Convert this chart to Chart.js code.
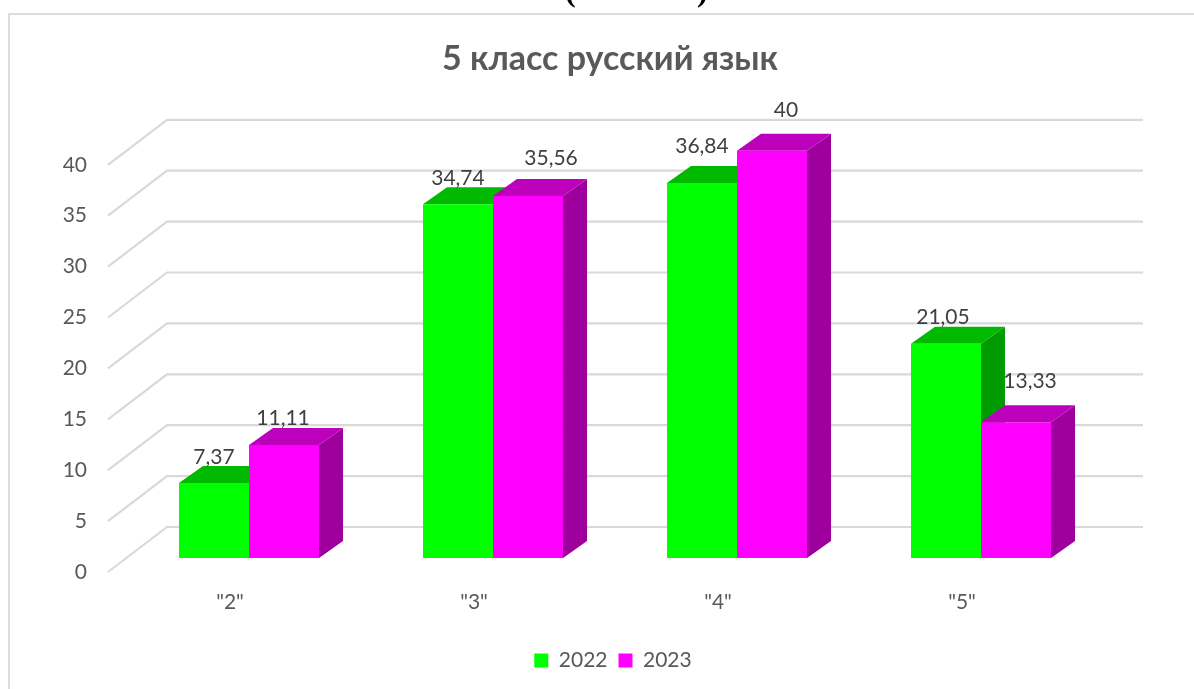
<!DOCTYPE html>
<html lang="ru">
<head>
<meta charset="utf-8">
<style>
html,body{margin:0;padding:0;background:#fff;overflow:hidden}
#wrap{position:relative;width:1194px;height:689px;overflow:hidden}
canvas{position:absolute;left:0;top:0}
.p{position:absolute;font:bold 32px "Liberation Serif",serif;color:#000;line-height:32px;top:-26px}
</style>
<script src="https://cdn.jsdelivr.net/npm/chart.js@4"></script>
</head>
<body>
<div id="wrap">
<canvas id="c" width="1194" height="689"></canvas>
<div class="p" style="left:565px">(</div>
<div class="p" style="left:697px">)</div>
</div>
<script>
const categories = ['"2"', '"3"', '"4"', '"5"'];
const series2022 = [7.37, 34.74, 36.84, 21.05];
const series2023 = [11.11, 35.56, 40, 13.33];
const yTickStep = 5;
const yMax = 40;

const DEPTH_X = 24, DEPTH_Y = 17;
const WALL_X = 59, WALL_Y = 45;
const BAR_DX = 19, BAR_DY = -14;
const LEGEND_SHIFT = 3;
const FACES = [
  {top:'#00B900', side:'#009B00'},
  {top:'#BC00BC', side:'#9E009E'}
];
const LABEL_SHIFT = [
  [[0,-26],[0,-26],[0,-37],[-3,-26]],
  [[-1,-27],[23,-38],[14,-41],[14,-41]]
];
const TICK_FONT = {family:'Lato, Carlito, sans-serif', size:21};

function poly(ctx, pts, fill){
  ctx.beginPath();
  pts.forEach((p,i)=> i ? ctx.lineTo(p[0],p[1]) : ctx.moveTo(p[0],p[1]));
  ctx.closePath();
  ctx.fillStyle = fill;
  ctx.fill();
}

const frame = {
  id:'frame',
  afterLayout(chart){
    chart.legend.left += LEGEND_SHIFT;
    chart.legend.right += LEGEND_SHIFT;
  },
  beforeDraw(chart){
    const ctx = chart.ctx;
    ctx.save();
    ctx.strokeStyle = '#DCDCDC';
    ctx.lineWidth = 2;
    ctx.beginPath();
    ctx.moveTo(9, 689); ctx.lineTo(9, 14); ctx.lineTo(1194, 14);
    ctx.stroke();
    ctx.restore();
  }
};

const wall = {
  id:'wall',
  beforeDatasetsDraw(chart){
    const ctx = chart.ctx, y = chart.scales.y, a = chart.chartArea;
    ctx.save();
    ctx.strokeStyle = '#D9D9D9';
    ctx.lineWidth = 2.2;
    y.ticks.forEach(t=>{
      const py = y.getPixelForValue(t.value);
      ctx.beginPath();
      ctx.moveTo(a.left, py);
      ctx.lineTo(a.left+WALL_X, py-WALL_Y);
      ctx.lineTo(a.right+WALL_X, py-WALL_Y);
      ctx.stroke();
    });
    ctx.restore();
  }
};

const box3d = {
  id:'box3d',
  beforeDatasetsDraw(chart){
    const ctx = chart.ctx;
    ctx.save();
    ctx.translate(BAR_DX, BAR_DY);
    chart.data.datasets.forEach((ds,i)=>{
      const f = FACES[i];
      chart.getDatasetMeta(i).data.forEach(b=>{
        const l = b.x-b.width/2, r = b.x+b.width/2, t = b.y, base = b.base;
        poly(ctx, [[r,t],[r+DEPTH_X,t-DEPTH_Y],[r+DEPTH_X,base-DEPTH_Y],[r,base]], f.side);
        poly(ctx, [[l,t],[l+DEPTH_X,t-DEPTH_Y],[r+DEPTH_X,t-DEPTH_Y],[r,t]], f.top);
      });
    });
    ctx.restore();
  },
  beforeDatasetDraw(chart){
    chart.ctx.save();
    chart.ctx.translate(BAR_DX, BAR_DY);
  },
  afterDatasetDraw(chart){
    chart.ctx.restore();
  },
  afterDatasetsDraw(chart){
    const ctx = chart.ctx;
    ctx.save();
    ctx.font = '21px Lato, Carlito, sans-serif';
    ctx.fillStyle = '#404040';
    ctx.textAlign = 'center';
    ctx.textBaseline = 'middle';
    chart.data.datasets.forEach((ds,i)=>{
      chart.getDatasetMeta(i).data.forEach((b,j)=>{
        const s = LABEL_SHIFT[i][j];
        ctx.fillText(String(ds.data[j]).replace('.',','), b.x+BAR_DX+s[0], b.y+BAR_DY+s[1]);
      });
    });
    ctx.restore();
  }
};

new Chart(document.getElementById('c'), {
  type:'bar',
  data:{
    labels:categories,
    datasets:[
      {label:'2022', data:series2022, backgroundColor:'#00FF00', clip:false},
      {label:'2023', data:series2023, backgroundColor:'#FF00FF', clip:false}
    ]
  },
  plugins:[frame, wall, box3d],
  options:{
    responsive:false,
    animation:false,
    layout:{padding:{left:26,right:0,top:0,bottom:8}},
    datasets:{bar:{categoryPercentage:0.574,barPercentage:1}},
    plugins:{
      tooltip:{enabled:false},
      title:{
        display:true,
        text:'5 класс русский язык',
        color:'#595959',
        font:{family:'Lato, Carlito, sans-serif',size:34,weight:'bold'},
        padding:{top:39,bottom:85}
      },
      legend:{
        position:'bottom',
        labels:{
          boxWidth:14,boxHeight:14,padding:11,
          color:'#595959',
          font:TICK_FONT,
          generateLabels(chart){
            return chart.data.datasets.map((d,i)=>({
              text:d.label,fillStyle:d.backgroundColor,strokeStyle:d.backgroundColor,
              lineWidth:0,datasetIndex:i,fontColor:'#595959'
            }));
          }
        }
      }
    },
    scales:{
      x:{
        grid:{display:false,drawTicks:false},
        border:{display:false},
        ticks:{color:'#595959',font:TICK_FONT,padding:18,maxRotation:0},
        afterFit(s){ s.height = 67; }
      },
      y:{
        min:0,max:yMax,
        grid:{display:false,drawTicks:false},
        border:{display:false},
        ticks:{stepSize:yTickStep,color:'#595959',font:TICK_FONT,padding:21},
        afterFit(s){ s.width = 82; }
      },
      pad:{
        position:'right',
        grid:{display:false,drawTicks:false},
        border:{display:false},
        ticks:{display:false},
        afterFit(s){ s.width = 110; }
      }
    }
  }
});
</script>
</body>
</html>
